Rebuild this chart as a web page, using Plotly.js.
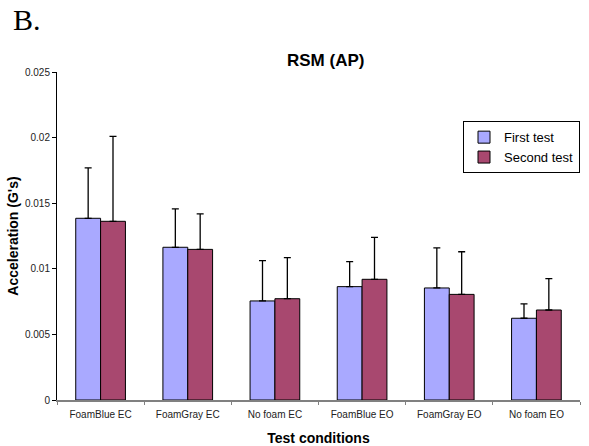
<!DOCTYPE html>
<html>
<head>
<meta charset="utf-8">
<script src="https://cdn.plot.ly/plotly-3.0.1.min.js"></script>
<style>html,body{margin:0;padding:0;background:#fff;}#chart{width:589px;height:446px;}</style>
</head>
<body>
<div id="chart"></div>
<script>
const categories = ["FoamBlue EC", "FoamGray EC", "No foam EC", "FoamBlue EO", "FoamGray EO", "No foam EO"];
const firstTest = [0.01385, 0.01164, 0.00755, 0.00864, 0.00854, 0.00623];
const firstErr = [0.00385, 0.00292, 0.00307, 0.00190, 0.00305, 0.00109];
const secondTest = [0.01362, 0.01148, 0.00772, 0.00920, 0.00805, 0.00686];
const secondErr = [0.00648, 0.00270, 0.00313, 0.00320, 0.00325, 0.00239];
const yTicks = [0, 0.005, 0.01, 0.015, 0.02, 0.025];
const yTickLabels = ["0", "0.005", "0.01", "0.015", "0.02", "0.025"];

const font = "Arial, 'Liberation Sans', sans-serif";

const traces = [
  {
    type: "bar", name: "First test", x: categories, y: firstTest,
    marker: {color: "#A9A9FF", line: {color: "#000", width: 1}},
    error_y: {type: "data", array: firstErr, symmetric: false, arrayminus: firstErr.map(() => 0), color: "#000", thickness: 1.3, width: 3.5}
  },
  {
    type: "bar", name: "Second test", x: categories, y: secondTest,
    marker: {color: "#A8486F", line: {color: "#000", width: 1}},
    error_y: {type: "data", array: secondErr, symmetric: false, arrayminus: secondErr.map(() => 0), color: "#000", thickness: 1.3, width: 3.5}
  }
];

const layout = {
  width: 589, height: 446,
  margin: {l: 57, r: 9, t: 72, b: 46},
  paper_bgcolor: "#fff", plot_bgcolor: "#fff",
  font: {family: font, color: "#000"},
  barmode: "group", bargap: 0.43, bargroupgap: 0,
  title: {text: "<b>RSM (AP)</b>", font: {family: font, size: 17, color: "#000"}, x: 0.553, xref: "container", y: 0.866, yref: "container", xanchor: "center", yanchor: "middle"},
  xaxis: {
    type: "category", tickson: "boundaries", ticks: "outside", ticklen: 3, tickcolor: "#808080",
    showline: true, linecolor: "#808080", linewidth: 1.5, showgrid: false, zeroline: false,
    ticklabelstandoff: 4,
    tickfont: {family: font, size: 10, color: "#222"},
    title: {text: "<b>Test conditions</b>", font: {family: font, size: 14, color: "#000"}, standoff: 14}
  },
  yaxis: {
    range: [0, 0.025], tickvals: yTicks, ticktext: yTickLabels,
    ticks: "outside", ticklen: 4, tickcolor: "#000",
    showline: true, linecolor: "#000", linewidth: 1, showgrid: false, zeroline: false,
    tickfont: {family: font, size: 10, color: "#222"},
    title: {text: "<b>Acceleration (G's)</b>", font: {family: font, size: 14, color: "#000"}, standoff: 3}
  },
  legend: {
    x: 1.0, y: 0.85, xanchor: "right", yanchor: "top",
    bgcolor: "#fff", bordercolor: "#000", borderwidth: 1,
    font: {family: font, size: 13, color: "#000"},
    itemwidth: 30, tracegroupgap: 4
  },
  annotations: [{
    text: "B.", xref: "paper", yref: "paper", x: -0.088, y: 1.16, xanchor: "left", yanchor: "middle",
    showarrow: false, font: {family: "'Times New Roman', 'Liberation Serif', serif", size: 30, color: "#000"}
  }]
};

Plotly.newPlot("chart", traces, layout, {displayModeBar: false});
</script>
</body>
</html>
